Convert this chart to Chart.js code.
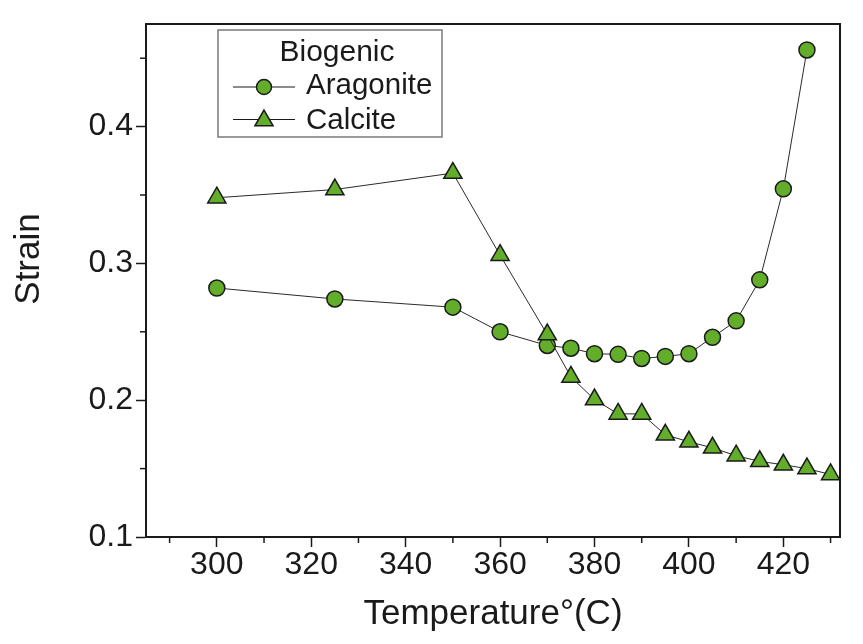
<!DOCTYPE html>
<html>
<head>
<meta charset="utf-8">
<script src="https://cdn.jsdelivr.net/npm/chart.js@4.4.0/dist/chart.umd.min.js"></script>
<style>
html, body { margin: 0; padding: 0; background: #ffffff; }
#wrap { width: 863px; height: 644px; position: relative; }
</style>
</head>
<body>
<div id="wrap"><canvas id="c" width="863" height="644"></canvas></div>
<script>
// ---- data ----
const xTitle = 'Temperature°(C)';
const yTitle = 'Strain';
const legendTitle = 'Biogenic';
const seriesNames = ['Aragonite', 'Calcite'];

const aragoniteTemps  = [300, 325, 350, 360, 370, 375, 380, 385, 390, 395, 400, 405, 410, 415, 420, 425];
const aragoniteStrain = [0.282, 0.274, 0.268, 0.250, 0.240, 0.238, 0.234, 0.2335, 0.2305, 0.232, 0.234, 0.246, 0.258, 0.288, 0.3545, 0.456];

const calciteTemps  = [300, 325, 350, 360, 370, 375, 380, 385, 390, 395, 400, 405, 410, 415, 420, 425, 430];
const calciteStrain = [0.348, 0.354, 0.366, 0.306, 0.248, 0.217, 0.2005, 0.190, 0.190, 0.1747, 0.1696, 0.1652, 0.1594, 0.1553, 0.1528, 0.150, 0.1457];

const xMajorTicks = [300, 320, 340, 360, 380, 400, 420];
const yMajorTicks = [0.1, 0.2, 0.3, 0.4];

// ---- style ----
const FONT = "'Liberation Sans', Arial, Helvetica, sans-serif";
const INK = '#1a1a1a';
const GREEN = '#62ad2a';
Chart.defaults.font.family = FONT;
Chart.defaults.color = INK;

const isMajorX = v => xMajorTicks.some(m => Math.abs(m - v) < 1e-6);
const isMajorY = v => yMajorTicks.some(m => Math.abs(m - v) < 1e-6);

function toPoints(xs, ys) { return xs.map((x, i) => ({ x: x, y: ys[i] })); }

// frame + minor ticks + y title
const framePlugin = {
  id: 'frame',
  afterDraw(chart) {
    const { ctx, chartArea: a, scales } = chart;
    ctx.save();
    ctx.strokeStyle = INK;
    ctx.lineWidth = 1.5;
    scales.x.ticks.forEach(t => {
      if (!isMajorX(t.value)) {
        const px = scales.x.getPixelForValue(t.value);
        ctx.beginPath(); ctx.moveTo(px, a.bottom); ctx.lineTo(px, a.bottom + 6); ctx.stroke();
      }
    });
    scales.y.ticks.forEach(t => {
      if (!isMajorY(t.value)) {
        const py = scales.y.getPixelForValue(t.value);
        ctx.beginPath(); ctx.moveTo(a.left, py); ctx.lineTo(a.left - 6, py); ctx.stroke();
      }
    });
    ctx.lineWidth = 2;
    ctx.strokeRect(a.left, a.top, a.right - a.left, a.bottom - a.top);
    // y axis title
    ctx.translate(29, 259);
    ctx.rotate(-Math.PI / 2);
    ctx.fillStyle = INK;
    ctx.font = "35px " + FONT;
    ctx.textAlign = 'center';
    ctx.textBaseline = 'middle';
    ctx.fillText(yTitle, 0, 0);
    ctx.restore();
  }
};

function drawCircle(ctx, x, y, r) {
  ctx.beginPath(); ctx.arc(x, y, r, 0, Math.PI * 2); ctx.closePath();
  ctx.fillStyle = GREEN; ctx.fill();
  ctx.lineWidth = 1.5; ctx.strokeStyle = INK; ctx.stroke();
}
function drawTriangle(ctx, x, y, r) {
  ctx.beginPath();
  for (let k = 0; k < 3; k++) {
    const ang = k * 2 * Math.PI / 3;
    const px = x + Math.sin(ang) * r, py = y - Math.cos(ang) * r;
    if (k === 0) ctx.moveTo(px, py); else ctx.lineTo(px, py);
  }
  ctx.closePath();
  ctx.fillStyle = GREEN; ctx.fill();
  ctx.lineWidth = 1.5; ctx.strokeStyle = INK; ctx.stroke();
}

const legendPlugin = {
  id: 'boxLegend',
  afterDraw(chart) {
    const ctx = chart.ctx;
    ctx.save();
    ctx.strokeStyle = '#7a7a7a';
    ctx.lineWidth = 1.5;
    ctx.strokeRect(218, 30, 224, 107);
    ctx.fillStyle = INK;
    ctx.font = "30px " + FONT;
    ctx.textAlign = 'center';
    ctx.textBaseline = 'alphabetic';
    ctx.fillText(legendTitle, 337, 61);
    ctx.textAlign = 'left';
    ctx.font = "29.5px " + FONT;
    const rows = [
      { name: chart.data.datasets[0].label, y: 87, marker: 'circle', base: 94 },
      { name: chart.data.datasets[1].label, y: 119.5, marker: 'triangle', base: 128.5 }
    ];
    rows.forEach(r => {
      ctx.strokeStyle = INK; ctx.lineWidth = 1;
      ctx.beginPath(); ctx.moveTo(233, r.y); ctx.lineTo(295, r.y); ctx.stroke();
      if (r.marker === 'circle') drawCircle(ctx, 264, r.y, 7.5);
      else drawTriangle(ctx, 264, r.y + 1, 10.5);
      ctx.fillStyle = INK;
      ctx.fillText(r.name, 306, r.base);
    });
    ctx.restore();
  }
};

const ctx = document.getElementById('c').getContext('2d');
new Chart(ctx, {
  type: 'line',
  data: {
    datasets: [
      {
        label: seriesNames[0],
        data: toPoints(aragoniteTemps, aragoniteStrain),
        borderColor: '#2a2a2a', borderWidth: 1,
        pointStyle: 'circle', pointRadius: 8, pointHoverRadius: 8,
        pointBackgroundColor: GREEN, pointBorderColor: INK, pointBorderWidth: 1.5,
        tension: 0, fill: false, clip: false, order: 2
      },
      {
        label: seriesNames[1],
        data: toPoints(calciteTemps, calciteStrain),
        borderColor: '#2a2a2a', borderWidth: 1,
        pointStyle: 'triangle', pointRadius: 10.5, pointHoverRadius: 10.5,
        pointBackgroundColor: GREEN, pointBorderColor: INK, pointBorderWidth: 1.5,
        tension: 0, fill: false, clip: false, order: 1
      }
    ]
  },
  options: {
    responsive: false,
    animation: false,
    layout: { padding: { left: 0, right: 23, top: 24, bottom: 0 } },
    plugins: { legend: { display: false }, tooltip: { enabled: false } },
    scales: {
      x: {
        type: 'linear', position: 'bottom', min: 285, max: 432,
        afterFit: s => { s.height = 107; },
        grid: {
          drawOnChartArea: false, drawTicks: true, tickLength: 10, tickWidth: 1.5,
          tickColor: c => (c.tick && isMajorX(c.tick.value)) ? INK : 'rgba(0,0,0,0)'
        },
        border: { display: true, color: INK, width: 2 },
        ticks: {
          stepSize: 10, includeBounds: false, autoSkip: false, maxRotation: 0, minRotation: 0,
          padding: 0, color: INK, font: { size: 32, lineHeight: 1.15 },
          callback: v => isMajorX(v) ? String(v) : ''
        },
        title: { display: true, text: xTitle, color: INK, font: { size: 35, lineHeight: 1 }, padding: { top: 0, bottom: 12 } }
      },
      y: {
        type: 'linear', position: 'left', min: 0.1, max: 0.475,
        afterFit: s => { s.width = 146; },
        grid: {
          drawOnChartArea: false, drawTicks: true, tickLength: 10, tickWidth: 1.5,
          tickColor: c => (c.tick && isMajorY(c.tick.value)) ? INK : 'rgba(0,0,0,0)'
        },
        border: { display: true, color: INK, width: 2 },
        ticks: {
          stepSize: 0.05, includeBounds: false, autoSkip: false,
          padding: 3, color: INK, font: { size: 32, lineHeight: 1.15 },
          callback: v => isMajorY(v) ? (Math.round(v * 10) / 10).toFixed(1) : ''
        },
        title: { display: false, text: yTitle }
      }
    }
  },
  plugins: [framePlugin, legendPlugin]
});
</script>
</body>
</html>
